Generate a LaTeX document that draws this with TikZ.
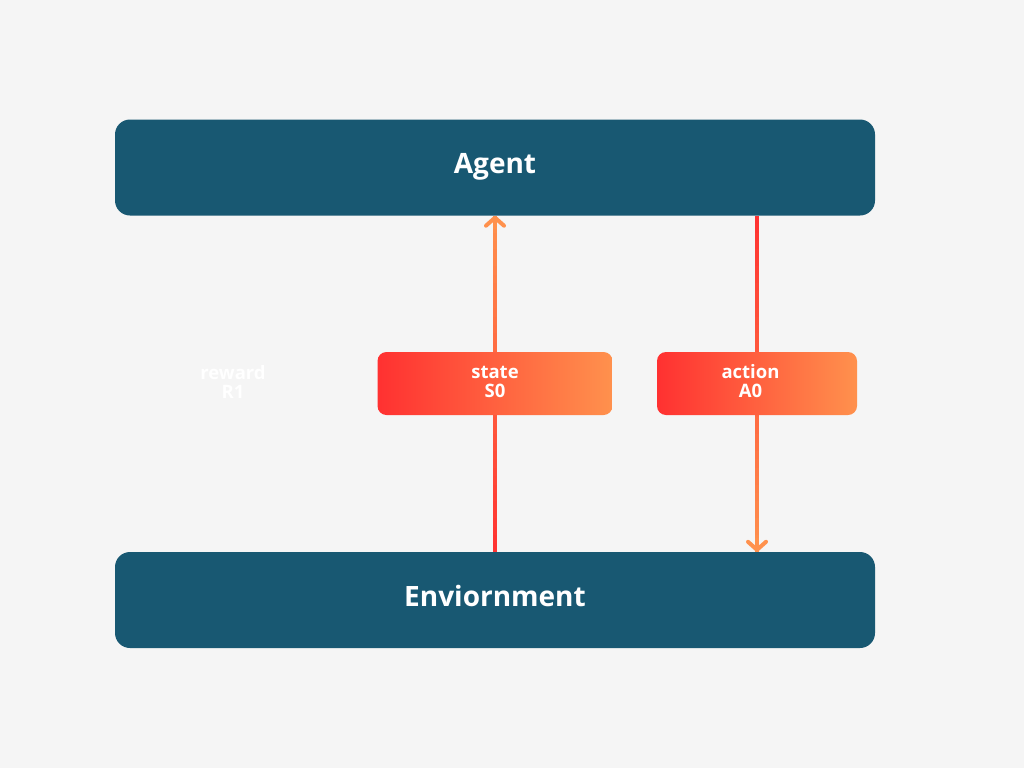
\documentclass[tikz,border=0pt]{standalone}
\usepackage{fontspec}
\setmainfont{Open Sans}
\usetikzlibrary{arrows.meta,calc}
\definecolor{bgc}{HTML}{F5F5F5}
\definecolor{teal1}{HTML}{185872}
\definecolor{red1}{HTML}{FF3131}
\definecolor{orange1}{HTML}{FF914D}
\pgfdeclarelayer{bglayer}
\pgfdeclarelayer{linelayer}
\pgfsetlayers{bglayer,linelayer,main}
\tikzset{
  bigbox/.style={rounded corners=15pt, fill=teal1, inner sep=0pt,
    minimum width=760pt, minimum height=96pt},
  bigtext/.style={text=white, inner sep=0pt, font=\fontsize{28}{32}\selectfont\bfseries},
  gradbox/.style={rounded corners=9pt, left color=red1, right color=orange1, draw=none,
    inner sep=0pt, minimum height=63pt},
  lbl/.style={text=white, align=center, inner sep=0pt, font=\fontsize{18.5}{19}\selectfont\bfseries},
  seg/.style={line width=4pt},
  tip/.style={line width=4pt, -{Straight Barb[round,length=8pt,width=18pt]}}
}
\begin{document}
\begin{tikzpicture}[x=1pt,y=-1pt]
\begin{pgfonlayer}{bglayer}
\fill[bgc] (0,0) rectangle (1024,768);
\end{pgfonlayer}
\useasboundingbox (0,0) rectangle (1024,768);
\node[bigbox] (agent) at (495,167.5) {};
\node[bigtext] (agenttext) at ($(agent.center)+(0,-1)$) {Agent};
\node[bigbox] (env) at (495,600) {};
\node[bigtext] (envtext) at ($(env.center)+(0,-4)$) {Enviornment};
\node[gradbox, minimum width=235pt] (state) at (495,383.5) {};
\node[lbl] (statetext) at ($(state.center)+(0,-2)$) {state\\S0};
\node[gradbox, minimum width=200pt] (action) at (757,383.5) {};
\node[lbl] (actiontext) at ($(action.center)+(-6.5,-2)$) {action\\A0};
\node[lbl] (reward) at (233,381.5) {reward\\R1};
\coordinate (sA) at (state.center |- env.north);
\coordinate (sB) at (state.center |- agent.south);
\coordinate (aA) at (action.center |- agent.south);
\coordinate (aB) at (action.center |- env.north);
\begin{pgfonlayer}{linelayer}
\foreach \i in {0,...,39}{
  \pgfmathtruncatemacro\p{100-(\i+0.5)*100/40}
  \draw[seg, color=red1!\p!orange1] ($(sA)!{\i/40}!(sB)$) -- ($(sA)!{(\i+1)/40}!(sB)$);
  \draw[seg, color=red1!\p!orange1] ($(aA)!{\i/40}!(aB)$) -- ($(aA)!{(\i+1)/40}!(aB)$);
}
\draw[tip, orange1] ($(sA)!0.96!(sB)$) -- (sB);
\draw[tip, orange1] ($(aA)!0.96!(aB)$) -- (aB);
\end{pgfonlayer}
\end{tikzpicture}
\end{document}
